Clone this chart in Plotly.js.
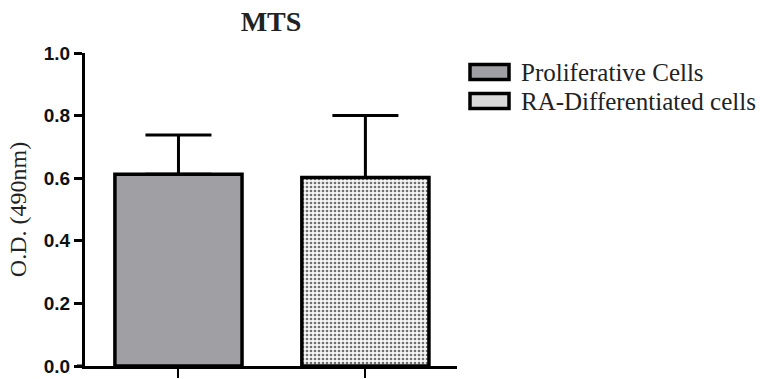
<!DOCTYPE html>
<html>
<head>
<meta charset="utf-8">
<script src="https://cdn.plot.ly/plotly-3.0.1.min.js"></script>
<style>html,body{margin:0;padding:0;background:#fff;}#chart{width:779px;height:379px;}</style>
</head>
<body>
<div id="chart"></div>
<script>
const seriesNames = ["Proliferative Cells", "RA-Differentiated cells"];
const categories = ["Proliferative", "RA-Differentiated"];
const meanOD = [0.613, 0.602];
const errorUp = [0.125, 0.198];
const yTickVals = [0.0, 0.2, 0.4, 0.6, 0.8, 1.0];
const yTickText = ["0.0", "0.2", "0.4", "0.6", "0.8", "1.0"];

const fills = ["#a0a0a4", "#f4f4f4"];
const traces = [
  {
    type: "bar", name: seriesNames[0], x: [categories[0]], y: [meanOD[0]],
    width: 0.68,
    marker: {color: fills[0], line: {color: "#000", width: 3.5}},
    error_y: {type: "data", array: [errorUp[0]], arrayminus: [0], symmetric: false, color: "#000", thickness: 3, width: 33}
  },
  {
    type: "bar", name: seriesNames[1], x: [categories[1]], y: [meanOD[1]],
    width: 0.68,
    marker: {color: fills[1], line: {color: "#000", width: 3.5},
      pattern: {shape: ".", fgcolor: "#707070", bgcolor: "#f6f6f6", size: 4, solidity: 0.35}},
    error_y: {type: "data", array: [errorUp[1]], arrayminus: [0], symmetric: false, color: "#000", thickness: 3, width: 33}
  }
];

// plot area in pixels: x 85..457, y 53..366
const PW = 372, PH = 313;
const px = v => (v - 85) / PW;
const py = v => (366 - v) / PH;

const legendRows = [72, 101];
const legendFills = ["#a0a0a4", "#d9d9d9"];
const shapes = [
  {type: "line", xref: "paper", yref: "paper", x0: -8/PW, x1: 0, y0: 0, y1: 0, line: {color: "#000", width: 3}}
];
const annotations = [];
seriesNames.forEach((n, i) => {
  const cy = legendRows[i];
  shapes.push({type: "rect", xref: "paper", yref: "paper", x0: px(470), x1: px(509), y0: py(cy + 7.5), y1: py(cy - 7.5),
    fillcolor: legendFills[i], line: {color: "#000", width: 3.5}});
  annotations.push({xref: "paper", yref: "paper", x: px(519), y: py(cy), xanchor: "left", yanchor: "middle",
    text: n, showarrow: false, font: {family: "Liberation Serif, Times New Roman, serif", size: 25, color: "#222"}});
});

const layout = {
  width: 779, height: 379,
  margin: {l: 85, r: 322, t: 53, b: 13},
  paper_bgcolor: "#fff", plot_bgcolor: "#fff",
  barmode: "overlay",
  title: {text: "<b>MTS</b>", x: 0.5, xref: "paper", xanchor: "center", y: 0.943, yref: "container", yanchor: "middle",
    font: {family: "Liberation Serif, Times New Roman, serif", size: 28, color: "#222"}},
  xaxis: {
    type: "category", range: [-0.5, 1.49], showline: true, linecolor: "#000", linewidth: 3,
    ticks: "outside", ticklen: 9, tickwidth: 2, tickcolor: "#000", showticklabels: false,
    showgrid: false, zeroline: false, fixedrange: true
  },
  yaxis: {
    range: [0, 1.0], tickvals: yTickVals, ticktext: yTickText,
    showline: true, linecolor: "#000", linewidth: 3, ticks: "outside", ticklen: 8, tickwidth: 3, tickcolor: "#000",
    tickfont: {family: "Liberation Sans, Arial, sans-serif", size: 19, color: "#111", weight: "bold"},
    showgrid: false, zeroline: false, fixedrange: true,
    title: {text: "O.D. (490nm)", standoff: 11, font: {family: "Liberation Serif, Times New Roman, serif", size: 24, color: "#222"}}
  },
  showlegend: false,
  shapes: shapes,
  annotations: annotations
};

Plotly.newPlot("chart", traces, layout, {displayModeBar: false, staticPlot: true});
</script>
</body>
</html>
